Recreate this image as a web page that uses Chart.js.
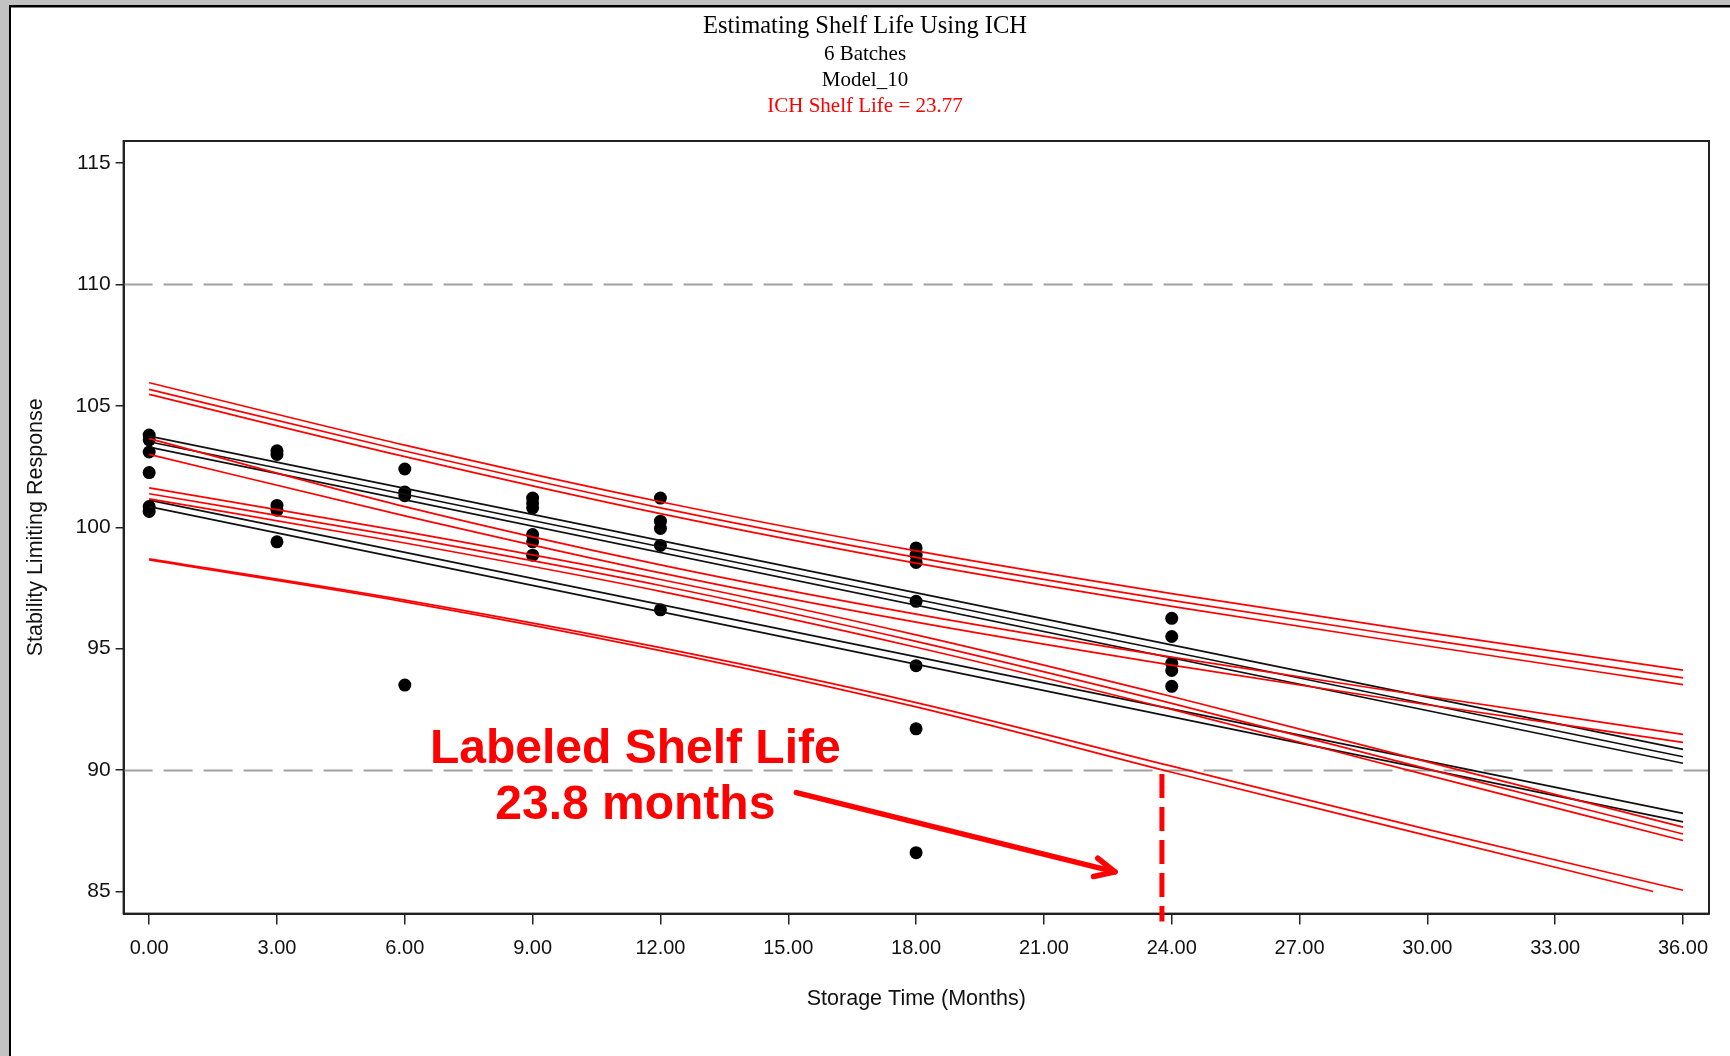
<!DOCTYPE html>
<html>
<head>
<meta charset="utf-8">
<script src="https://cdn.jsdelivr.net/npm/chart.js@4.4.1/dist/chart.umd.min.js"></script>
<style>
html,body{margin:0;padding:0;background:#fff;overflow:hidden;}
#wrap{position:absolute;left:0;top:0;width:1730px;height:1056px;}
</style>
</head>
<body>
<div id="wrap"><canvas id="c" width="1730" height="1056"></canvas></div>
<script>
// ---------------- DATA ----------------
const titleLines = ['Estimating Shelf Life Using ICH', '6 Batches', 'Model_10', 'ICH Shelf Life = 23.77'];
const xAxisTitle = 'Storage Time (Months)';
const yAxisTitle = 'Stability Limiting Response';

const xTicks = [0, 3, 6, 9, 12, 15, 18, 21, 24, 27, 30, 33, 36];
const xTickLabels = ['0.00','3.00','6.00','9.00','12.00','15.00','18.00','21.00','24.00','27.00','30.00','33.00','36.00'];
const yTicks = [85, 90, 95, 100, 105, 110, 115];
const yTickLabels = ['85','90','95','100','105','110','115'];

// observed results
const obsTime  = [0,0,0,0,0,0, 3,3,3,3,3, 6,6,6,6, 9,9,9,9,9,9, 12,12,12,12,12, 18,18,18,18,18,18,18, 24,24,24,24,24];
const obsValue = [103.8,103.6,103.1,102.25,100.85,100.65,
                  103.15,103.0,100.9,100.7,99.4,
                  102.4,101.45,101.3,93.5,
                  101.2,101.0,100.8,99.7,99.4,98.85,
                  101.2,100.25,99.95,99.25,96.6,
                  99.15,98.85,98.55,96.95,94.3,91.7,86.6,
                  96.25,95.5,94.4,94.1,93.45];

// fitted regression lines (black)
const fitTime = [0, 36];
const fit1 = [103.75, 90.85];
const fit2 = [103.52, 90.55];
const fit3 = [103.30, 90.28];
const fit4 = [101.12, 88.22];
const fit5 = [100.85, 87.87];

// 95% confidence bounds (red)
const boundTime  = [0, 6, 12, 18, 24, 30, 36];
const upper1 = [105.95, 103.38, 101.05, 99.03, 97.27, 95.66, 94.12];
const upper2 = [105.68, 103.14, 100.80, 98.76, 96.99, 95.37, 93.80];
const upper3 = [105.47, 102.91, 100.56, 98.52, 96.74, 95.11, 93.52];
const lower1 = [101.62, 99.82, 97.85, 95.57, 93.03, 90.34, 87.65];
const lower2 = [101.38, 99.58, 97.60, 95.30, 92.75, 90.05, 87.37];
const lower3 = [101.17, 99.35, 97.36, 95.06, 92.50, 89.79, 87.10];
const upper4 = [103.65, 100.85, 98.45, 96.42, 94.65, 93.04, 91.47];
const upper5 = [103.00, 100.47, 98.12, 96.09, 94.32, 92.69, 91.14];
const lower4 = [98.70, 97.00, 95.04, 92.78, 90.16, 87.56, 85.05];
const lower5Time = [0, 6, 12, 18, 24, 30, 35.3];
const lower5 = [98.65, 96.93, 94.92, 92.60, 89.91, 87.30, 85.00];

const specLimits = [90, 110];
const shelfLife = 23.77;
const calloutLines = ['Labeled Shelf Life', '23.8 months'];
const calloutX = 11.41;
const calloutY = [90.29, 87.99];
const arrowFrom = [15.19, 89.07];
const arrowTo = [22.67, 85.81];

// ---------------- BUILD ----------------
const pts = (xs, ys) => ys.map((v, i) => ({x: xs[i], y: v}));
const lineDs = (xs, ys, color) => ({
  data: pts(xs, ys), showLine: true, borderColor: color, borderWidth: 1.7,
  pointRadius: 0, fill: false, cubicInterpolationMode: 'monotone'
});
const RED = '#ff0000', BLK = '#111111';
const datasets = [
  lineDs(boundTime, upper1, RED), lineDs(boundTime, upper2, RED), lineDs(boundTime, upper3, RED),
  lineDs(boundTime, lower1, RED), lineDs(boundTime, lower2, RED), lineDs(boundTime, lower3, RED),
  lineDs(boundTime, upper4, RED), lineDs(boundTime, upper5, RED),
  lineDs(boundTime, lower4, RED), lineDs(lower5Time, lower5, RED),
  lineDs(fitTime, fit1, BLK), lineDs(fitTime, fit2, BLK), lineDs(fitTime, fit3, BLK),
  lineDs(fitTime, fit4, BLK), lineDs(fitTime, fit5, BLK),
  { data: pts(obsTime, obsValue), showLine: false, pointRadius: 6.5, pointHoverRadius: 6.5,
    backgroundColor: '#000', borderColor: '#000', borderWidth: 0 }
];

const SANS = "'Liberation Sans', Arial, sans-serif";
const SERIF = "'Liberation Serif', 'Times New Roman', serif";

const decor = {
  id: 'decor',
  beforeDraw(chart) {
    const ctx = chart.ctx;
    ctx.save();
    ctx.fillStyle = '#fff';
    ctx.fillRect(0, 0, chart.width, chart.height);
    ctx.fillStyle = '#c2c2c2';
    ctx.fillRect(0, 0, 9, chart.height);
    ctx.fillRect(0, 0, chart.width, 5);
    ctx.fillStyle = '#000';
    ctx.fillRect(9, 5, 2, chart.height);
    ctx.fillRect(9, 5, chart.width, 2.5);
    ctx.restore();
  },
  beforeDatasetsDraw(chart) {
    const {ctx, chartArea: a, scales: {y}} = chart;
    ctx.save();
    ctx.strokeStyle = '#a0a0a0';
    ctx.lineWidth = 2;
    ctx.setLineDash([29, 11]);
    specLimits.forEach(v => {
      const py = Math.round(y.getPixelForValue(v)) + 0.5;
      ctx.beginPath(); ctx.moveTo(a.left, py); ctx.lineTo(a.right, py); ctx.stroke();
    });
    ctx.restore();
  },
  afterDraw(chart) {
    const {ctx, chartArea: a, scales: {x, y}} = chart;
    ctx.save();
    // frame
    ctx.strokeStyle = '#222';
    ctx.lineWidth = 2;
    ctx.strokeRect(a.left, a.top, a.right - a.left, a.bottom - a.top);
    // shelf life marker
    const sx = x.getPixelForValue(shelfLife);
    ctx.strokeStyle = RED;
    ctx.lineWidth = 5;
    ctx.setLineDash([24, 9]);
    ctx.beginPath(); ctx.moveTo(sx, y.getPixelForValue(90) + 4); ctx.lineTo(sx, a.bottom + 8); ctx.stroke();
    ctx.setLineDash([]);
    // arrow
    const x0 = x.getPixelForValue(arrowFrom[0]), y0 = y.getPixelForValue(arrowFrom[1]);
    const x1 = x.getPixelForValue(arrowTo[0]), y1 = y.getPixelForValue(arrowTo[1]);
    ctx.lineWidth = 5.5; ctx.lineCap = 'round'; ctx.lineJoin = 'round';
    ctx.beginPath(); ctx.moveTo(x0, y0); ctx.lineTo(x1, y1); ctx.stroke();
    const ang = Math.atan2(y1 - y0, x1 - x0) + Math.PI;
    const L = 22;
    ctx.beginPath();
    ctx.moveTo(x1 + L * Math.cos(ang + 0.42), y1 + L * Math.sin(ang + 0.42));
    ctx.lineTo(x1, y1);
    ctx.lineTo(x1 + L * Math.cos(ang - 0.46), y1 + L * Math.sin(ang - 0.46));
    ctx.stroke();
    // callout text
    ctx.fillStyle = RED;
    ctx.font = 'bold 48px ' + SANS;
    ctx.textAlign = 'center'; ctx.textBaseline = 'alphabetic';
    calloutLines.forEach((t, i) => ctx.fillText(t, x.getPixelForValue(calloutX), y.getPixelForValue(calloutY[i])));
    // titles
    const cx = chart.width / 2;
    ctx.fillStyle = '#000';
    ctx.font = '24.5px ' + SERIF;
    ctx.fillText(titleLines[0], cx, 33);
    ctx.font = '21px ' + SERIF;
    ctx.fillText(titleLines[1], cx, 60);
    ctx.fillText(titleLines[2], cx, 85.5);
    ctx.fillStyle = RED;
    ctx.fillText(titleLines[3], cx, 111.5);
    ctx.restore();
  }
};

new Chart(document.getElementById('c'), {
  type: 'scatter',
  data: { datasets },
  plugins: [decor],
  options: {
    responsive: false,
    animation: false,
    events: [],
    layout: { padding: { top: 141, right: 21, left: 0, bottom: 0 } },
    plugins: { legend: { display: false }, tooltip: { enabled: false }, title: { display: false } },
    scales: {
      x: {
        type: 'linear', position: 'bottom', min: -0.6, max: 36.61,
        afterBuildTicks: s => { s.ticks = xTicks.map(v => ({ value: v })); },
        afterFit: s => { s.height = 142.4; },
        ticks: { callback: (v, i) => xTickLabels[i], color: '#111', font: { family: SANS, size: 20 }, padding: 12, autoSkip: false, maxRotation: 0 },
        grid: { drawOnChartArea: false, drawTicks: true, tickLength: 11, color: '#222', lineWidth: 1.5 },
        border: { display: true, color: '#222', width: 2 },
        title: { display: true, text: xAxisTitle, color: '#111', font: { family: SANS, size: 21.5 }, padding: { top: 0, bottom: 44 } }
      },
      y: {
        type: 'linear', position: 'left', min: 84.09, max: 115.906,
        afterBuildTicks: s => { s.ticks = yTicks.map(v => ({ value: v })); },
        afterFit: s => { s.width = 123.6; },
        ticks: { callback: (v, i) => yTickLabels[i], color: '#111', font: { family: SANS, size: 21 }, padding: 5 },
        grid: { drawOnChartArea: false, drawTicks: true, tickLength: 8, color: '#222', lineWidth: 1.5 },
        border: { display: true, color: '#222', width: 2 },
        title: { display: true, text: yAxisTitle, color: '#111', font: { family: SANS, size: 21.5 }, padding: { top: 23, bottom: 0 } }
      }
    }
  }
});
</script>
</body>
</html>
